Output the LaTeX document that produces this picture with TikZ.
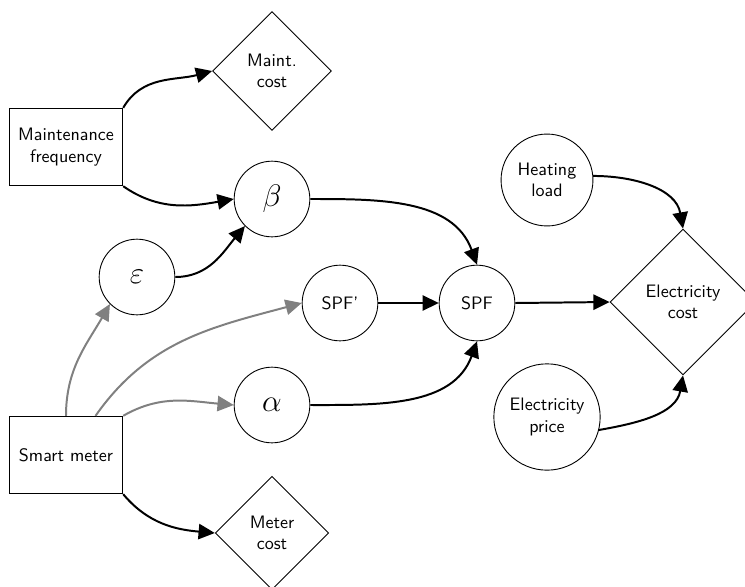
\documentclass[tikz,border=0pt]{standalone}
\usetikzlibrary{shapes.geometric,arrows.meta}
\begin{document}
\begin{tikzpicture}[x=0.555pt,y=-0.555pt,
  font=\sffamily,
  circ/.style={circle,draw,line width=0.5pt,minimum size=42pt,inner sep=1pt,align=center},
  box/.style={rectangle,draw,line width=0.5pt,minimum width=63pt,minimum height=43pt,align=center,inner sep=2pt},
  dia/.style={diamond,draw,line width=0.5pt,inner sep=0pt,align=center},
  blk/.style={line width=1.1pt,-{Triangle[length=9pt,width=8.5pt]}},
  gry/.style={blk,draw=gray}]
\useasboundingbox (0,0) rectangle (745,586);
\node[box] (mf) at (66,147) {Maintenance\\frequency};
\node[dia,minimum size=66pt] (mc) at (272,71) {Maint.\\cost};
\node[circ] (beta) at (272,199) {\LARGE$\beta$};
\node[circ] (eps) at (137,277) {\LARGE$\varepsilon$};
\node[circ] (spfp) at (340,303) {SPF'};
\node[circ] (spf) at (477,303) {SPF};
\node[circ] (alpha) at (272,405) {\LARGE$\alpha$};
\node[box] (sm) at (66,455) {Smart meter};
\node[dia,minimum size=63pt] (metc) at (272,533) {Meter\\cost};
\node[circ,minimum size=51pt] (hl) at (547,180) {Heating\\load};
\node[circ,minimum size=59pt] (ep) at (547,417) {Electricity\\price};
\node[dia,minimum size=81pt] (ec) at (683,302) {Electricity\\cost};

\draw[blk] (mf.north east) to[out=60,in=195] (mc.west);
\draw[blk] (mf.south east) to[out=-35,in=190] (beta.west);
\draw[blk] (eps.east) to[out=0,in=230] (beta.south west);
\draw[blk] (beta.east) to[out=0,in=110] (spf.north);
\draw[blk] (spfp.east) -- (spf.west);
\draw[blk] (alpha.east) to[out=0,in=-110] (spf.south);
\draw[blk] (spf.east) -- (ec.west);
\draw[blk] (hl.5) to[out=0,in=100] (ec.north);
\draw[blk] (ep.-14) to[out=10,in=-100] (ec.south);
\draw[blk] (sm.south east) to[out=-50,in=175] (metc.west);

\draw[gry] (sm.north) to[out=90,in=240] (eps.south west);
\draw[gry] (sm.53) to[out=55,in=195] (spfp.west);
\draw[gry] (sm.north east) to[out=30,in=175] (alpha.west);
\end{tikzpicture}
\end{document}
